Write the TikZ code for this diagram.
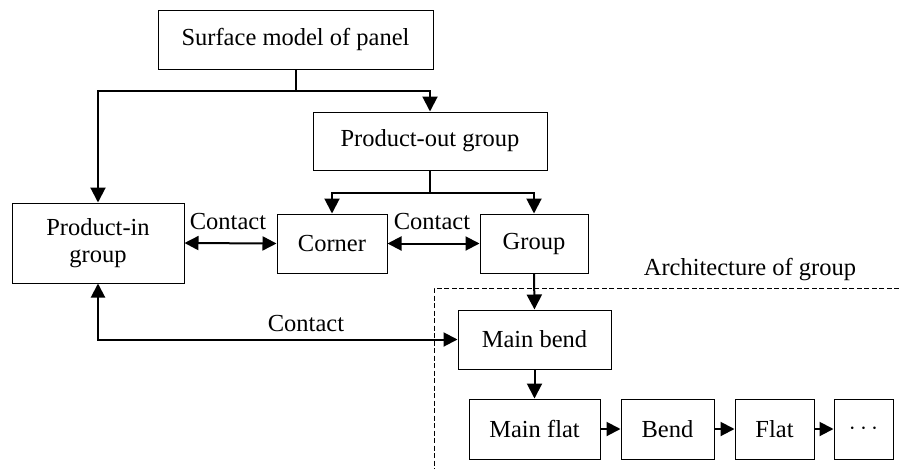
\documentclass[tikz,border=0pt]{standalone}
\usepackage{fontspec}
\setmainfont{Liberation Serif}
\usetikzlibrary{arrows.meta}

\tikzset{
  box/.style={draw, line width=1pt, rectangle, inner sep=0pt, align=center,
              font=\fontsize{24.5}{27}\selectfont},
  arr/.style={line width=2pt, -{Triangle[length=15pt,width=15pt]}},
  darr/.style={line width=2pt, {Triangle[length=14pt,width=14pt]}-{Triangle[length=14pt,width=14pt]}},
  sarr/.style={line width=2pt, -{Triangle[length=14pt,width=14pt]}},
  lbl/.style={font=\fontsize{24.5}{27}\selectfont, inner sep=0pt},
  frame/.style={line width=0.9pt, dash pattern=on 5pt off 2.5pt}
}

\begin{document}
\begin{tikzpicture}[x=1pt,y=-1pt]
\useasboundingbox (0,0) rectangle (899,469);

% boxes of the panel hierarchy
\node[box, minimum width=275pt, minimum height=59pt] (surf)  at (295.5,39.5) {Surface model of panel};
\node[box, minimum width=234pt, minimum height=58pt] (pout)  at (430,141)    {Product-out group};
\node[box, minimum width=172pt, minimum height=80pt] (pin)   at (98,243)     {Product-in\\group};
\node[box, minimum width=110pt, minimum height=59pt] (corner) at (332,243.5) {Corner};
\node[box, minimum width=108pt, minimum height=59pt] (grp)   at (534,243.5)  {Group};

% architecture of a group
\node[box, minimum width=153pt, minimum height=59pt] (mbend) at (534.5,339.5) {Main bend};
\node[box, minimum width=131pt, minimum height=60pt] (mflat) at (534.5,429)   {Main flat};
\node[box, minimum width=93pt,  minimum height=60pt] (bend)  at (667.5,429)   {Bend};
\node[box, minimum width=79pt,  minimum height=60pt] (flat)  at (774.5,429)   {Flat};
\node[box, minimum width=59pt,  minimum height=60pt] (more)  at (863.5,429)   {$\cdots$};

% dashed frame of the group architecture (runs off the page)
\coordinate (fr) at (434,288);
\draw[frame] (899,288) -- (fr) -- (434,469);
\node[lbl] (arch) at (750,270) {Architecture of group};

% tree connectors
\draw[arr] (surf.south) -- ++(0,21) -| (pin.north);
\draw[arr] (surf.south) -- ++(0,21) -| (pout.north);
\draw[arr] (pout.south) -- ++(0,22) -| (corner.north);
\draw[arr] (pout.south) -- ++(0,22) -| (grp.north);
\draw[arr] (grp.south) -- (mbend.north);
\draw[arr] (mbend.south) -- (mflat.north);

% contact relations
\draw[darr] (pin.east) -- (corner.west);
\node[lbl] (c1) at (228,222) {Contact};
\draw[darr] (corner.east) -- (grp.west);
\node[lbl] (c2) at (432,222) {Contact};
\draw[darr] (pin.south) |- (mbend.west);
\node[lbl] (c3) at (306,324) {Contact};

% chain of bends and flats
\draw[sarr] (mflat.east) -- (bend.west);
\draw[sarr] (bend.east) -- (flat.west);
\draw[sarr] (flat.east) -- (more.west);
\end{tikzpicture}
\end{document}
